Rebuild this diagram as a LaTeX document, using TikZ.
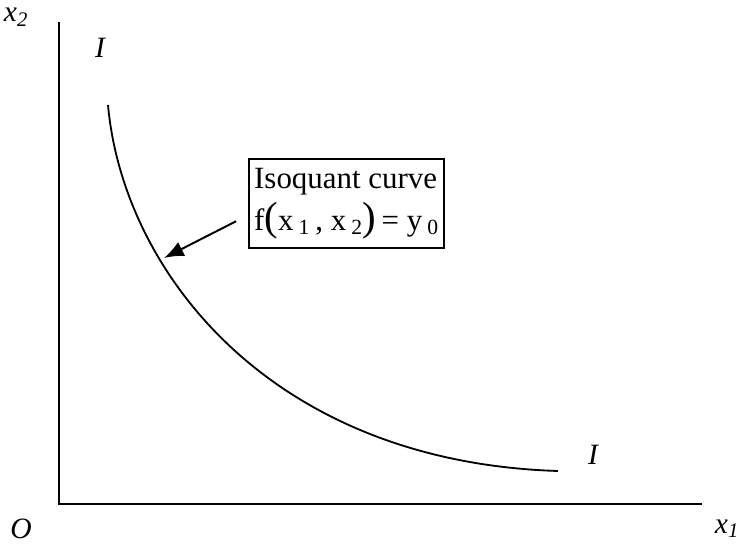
\documentclass[tikz,border=0pt]{standalone}
\usepackage{fontspec}
\setmainfont{Liberation Serif}
\usetikzlibrary{arrows.meta}
\definecolor{isoblack}{HTML}{000000}
\newcommand{\bigparen}[1]{{\fontsize{29}{30}\selectfont #1}}

\begin{document}
\begin{tikzpicture}[x=1cm,y=1cm,
    axislabel/.style={font=\fontsize{21}{21}\selectfont\itshape,inner sep=0pt},
    curvelabel/.style={font=\fontsize{21}{21}\selectfont\itshape,inner sep=0pt}]
  \useasboundingbox (-1.475,-1.0) rectangle (17.075,12.6);
  \coordinate (origin) at (0,0);
  \coordinate (ytop) at (0,12.05);
  \coordinate (xend) at (16.075,0);
  \draw[isoblack,line width=1.4pt] (ytop) -- (origin) -- (xend);
  \coordinate (curvestart) at (1.225,9.975);
  \coordinate (curveend) at (12.475,0.825);
  \draw[isoblack,line width=1.3pt] (curvestart) .. controls (1.6,5.8) and (5.3,1.05) .. (curveend);
  \node[axislabel] (xtwo) at (-1.075,12.17) {x\textsubscript{2}};
  \node[axislabel] (xone) at (16.7,-0.625) {x\textsubscript{1}};
  \node[axislabel] (orig) at (-0.95,-0.625) {O};
  \node[curvelabel] (itop) at (1.025,11.4) {I};
  \node[curvelabel] (ibot) at (13.35,1.225) {I};
  \node[draw=isoblack,line width=1.3pt,minimum width=4.875cm,minimum height=2.225cm,
        align=left,inner sep=2pt,font=\fontsize{22}{30}\selectfont] (isobox) at (7.19,7.51)
    {Isoquant curve\\f\bigparen{(}x\,\textsubscript{1}\,, x\,\textsubscript{2}\bigparen{)}\,= y\,\textsubscript{0}};
  \coordinate (arrowtip) at (2.625,6.15);
  \draw[isoblack,line width=1.4pt,-{Latex[length=14pt,width=11pt]}] ([xshift=-0.3cm,yshift=-0.44cm]isobox.west) -- (arrowtip);
\end{tikzpicture}
\end{document}
